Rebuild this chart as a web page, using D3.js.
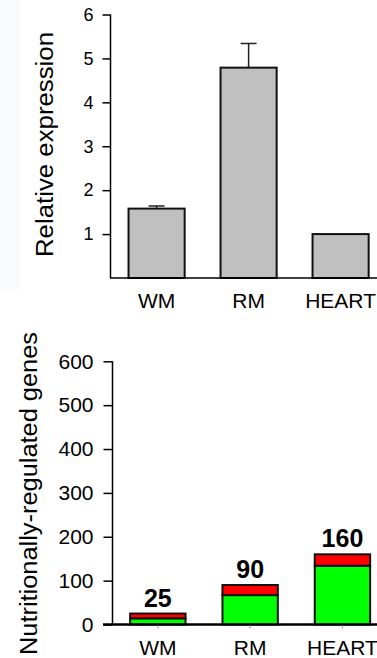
<!DOCTYPE html>
<meta charset="utf-8">
<script src="https://d3js.org/d3.v7.min.js"></script>
<style>
body { margin: 0; background: #fff; }
text { font-family: "Liberation Sans", Arial, sans-serif; fill: #000; }
.tick line { stroke: #000; stroke-width: 1.5; }
.domain { display: none; }
</style>
<div id="chart"></div>
<script>
// data
const tissues = ["WM", "RM", "HEART"];
const expression = [1.58, 4.79, 1.0];
const expressionErr = [0.06, 0.55, 0];
const expressionTicks = [1, 2, 3, 4, 5, 6];

const upGenes = [14, 67, 134];     // green part
const downGenes = [11, 23, 26];    // red part
const geneTotals = [25, 90, 160];
const geneTicks = [0, 100, 200, 300, 400, 500, 600];

const W = 377, H = 658;
const svg = d3.select("#chart").append("svg")
  .attr("width", W).attr("height", H);

// faint tint at the left edge of the scan
svg.append("rect").attr("x", 0).attr("y", 0).attr("width", 20).attr("height", 290)
  .attr("fill", "#fafbfd");

// ---------- top chart ----------
const x1 = d3.scaleBand().domain(tissues).range([110.6, 386.6])
  .paddingInner(0.39).paddingOuter(0.195);
const y1 = d3.scaleLinear().domain([0, 6]).range([278, 14.5]);

const g1 = svg.append("g");

g1.append("g")
  .attr("transform", "translate(110.5,0)")
  .call(d3.axisLeft(y1).tickValues(expressionTicks).tickFormat(d3.format("d"))
    .tickSize(8).tickPadding(9))
  .selectAll("text").style("font-size", "18px");

g1.append("line")
  .attr("x1", 110.5).attr("x2", 110.5).attr("y1", y1(6)).attr("y2", y1(0))
  .attr("stroke", "#000").attr("stroke-width", 1.5);

// error bars (upper only)
g1.selectAll(".err").data(tissues).join("g").each(function(d, i) {
  if (!expressionErr[i]) return;
  const cx = x1(d) + x1.bandwidth() / 2;
  const g = d3.select(this);
  g.append("line").attr("x1", cx).attr("x2", cx)
    .attr("y1", y1(expression[i])).attr("y2", y1(expression[i] + expressionErr[i]))
    .attr("stroke", "#222").attr("stroke-width", 1.5);
  g.append("line").attr("x1", cx - 8).attr("x2", cx + 8)
    .attr("y1", y1(expression[i] + expressionErr[i])).attr("y2", y1(expression[i] + expressionErr[i]))
    .attr("stroke", "#222").attr("stroke-width", 1.5);
});

g1.selectAll(".bar").data(tissues).join("rect")
  .attr("x", d => x1(d))
  .attr("y", (d, i) => y1(expression[i]))
  .attr("width", x1.bandwidth())
  .attr("height", (d, i) => y1(0) - y1(expression[i]))
  .attr("fill", "#c0c0c0").attr("stroke", "#111").attr("stroke-width", 2);

g1.append("line")
  .attr("x1", 110).attr("x2", W).attr("y1", y1(0)).attr("y2", y1(0))
  .attr("stroke", "#000").attr("stroke-width", 1.5);

g1.selectAll(".xl").data(tissues).join("text")
  .attr("x", d => x1(d) + x1.bandwidth() / 2)
  .attr("y", 308)
  .attr("text-anchor", "middle")
  .style("font-size", "21px")
  .text(d => d);

g1.append("text")
  .attr("transform", `translate(53,${(32 + 257) / 2}) rotate(-90)`)
  .attr("text-anchor", "middle")
  .attr("textLength", 225).attr("lengthAdjust", "spacingAndGlyphs")
  .style("font-size", "23px")
  .text("Relative expression");

// ---------- bottom chart ----------
const x2 = d3.scaleBand().domain(tissues).range([111.7, 388.6])
  .paddingInner(0.4).paddingOuter(0.2);
const y2 = d3.scaleLinear().domain([0, 600]).range([624.5, 361.3]);

const g2 = svg.append("g");

g2.append("g")
  .attr("transform", "translate(112.5,0)")
  .call(d3.axisLeft(y2).tickValues(geneTicks).tickSize(9).tickPadding(10))
  .selectAll("text").style("font-size", "21px");

g2.append("line")
  .attr("x1", 112.5).attr("x2", 112.5).attr("y1", y2(600)).attr("y2", y2(0))
  .attr("stroke", "#000").attr("stroke-width", 1.5);

const cols = g2.selectAll(".col").data(tissues).join("g");
cols.append("rect")
  .attr("x", d => x2(d))
  .attr("y", (d, i) => y2(upGenes[i]))
  .attr("width", x2.bandwidth())
  .attr("height", (d, i) => y2(0) - y2(upGenes[i]))
  .attr("fill", "#00ff00").attr("stroke", "#111").attr("stroke-width", 2);
cols.append("rect")
  .attr("x", d => x2(d))
  .attr("y", (d, i) => y2(upGenes[i] + downGenes[i]))
  .attr("width", x2.bandwidth())
  .attr("height", (d, i) => y2(upGenes[i]) - y2(upGenes[i] + downGenes[i]))
  .attr("fill", "#ff0000").attr("stroke", "#111").attr("stroke-width", 2);
cols.append("text")
  .attr("x", d => x2(d) + x2.bandwidth() / 2)
  .attr("y", (d, i) => y2(upGenes[i] + downGenes[i]) - 7)
  .attr("text-anchor", "middle")
  .style("font-size", "25px").style("font-weight", "bold")
  .text((d, i) => geneTotals[i]);

g2.append("line")
  .attr("x1", 103).attr("x2", W).attr("y1", y2(0)).attr("y2", y2(0))
  .attr("stroke", "#000").attr("stroke-width", 2.5);

// small tick marks under the baseline
g2.selectAll(".xt").data(tissues).join("line")
  .attr("x1", d => x2(d) + x2.bandwidth() / 2).attr("x2", d => x2(d) + x2.bandwidth() / 2)
  .attr("y1", y2(0) + 1).attr("y2", y2(0) + 4)
  .attr("stroke", "#999").attr("stroke-width", 1);

g2.selectAll(".xl").data(tissues).join("text")
  .attr("x", d => x2(d) + x2.bandwidth() / 2)
  .attr("y", 655)
  .attr("text-anchor", "middle")
  .style("font-size", "21px")
  .text(d => d);

g2.append("text")
  .attr("transform", `translate(37,${(332 + 655) / 2}) rotate(-90)`)
  .attr("text-anchor", "middle")
  .attr("textLength", 323).attr("lengthAdjust", "spacingAndGlyphs")
  .style("font-size", "23px")
  .text("Nutritionally-regulated genes");
</script>
